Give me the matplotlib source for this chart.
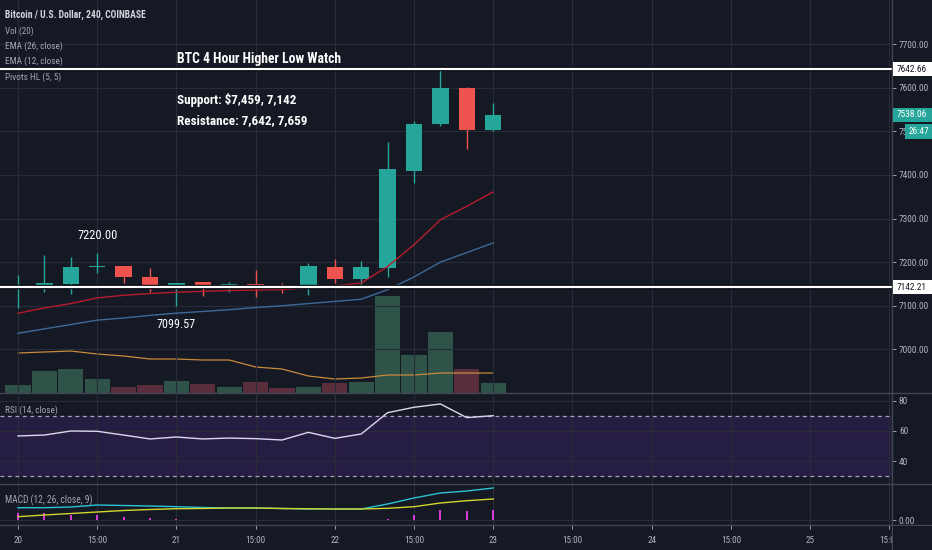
import matplotlib.pyplot as plt
import matplotlib.patheffects as pe
from matplotlib import font_manager as fm
from matplotlib.patches import Rectangle

# 4h candles, Bitcoin / U.S. Dollar, COINBASE
opens = [7141, 7143, 7150, 7189, 7191, 7166, 7138, 7154, 7140, 7150,
         7143, 7138, 7189, 7161, 7186, 7410, 7517, 7600, 7503]
highs = [7170, 7216, 7211, 7220, 7192, 7186, 7153, 7155, 7154, 7182,
         7152, 7198, 7207, 7202, 7475, 7523, 7642.66, 7601, 7565]
lows = [7094, 7131, 7127, 7175, 7152, 7131, 7099.57, 7122, 7131, 7120,
        7129, 7124, 7152, 7143, 7166, 7381, 7512, 7459, 7500]
closes = [7144, 7152, 7189, 7192, 7166, 7138, 7152, 7140, 7150, 7143,
          7138, 7191, 7161, 7188, 7413, 7517, 7600, 7503, 7538.06]

ema12 = [7083, 7095, 7105, 7118, 7124, 7128, 7131, 7133, 7135, 7136,
         7137, 7141, 7146, 7152, 7190, 7240, 7297, 7328, 7361]
ema26 = [7037, 7047, 7057, 7067, 7072, 7078, 7083, 7087, 7091, 7096,
         7100, 7105, 7110, 7115, 7137, 7166, 7200, 7222, 7244]

volume = [320, 880, 960, 560, 240, 320, 480, 360, 240, 440,
          200, 240, 400, 440, 3880, 1520, 2440, 960, 400]
vol_ma = [1600, 1640, 1680, 1560, 1480, 1360, 1360, 1320, 1320, 1040,
          960, 680, 560, 600, 720, 720, 800, 800, 800]

rsi = [56.7, 57.3, 60.0, 59.8, 57.3, 54.7, 56.0, 54.7, 55.3, 54.9,
       54.0, 59.1, 55.1, 58.0, 72.2, 75.8, 78.0, 68.9, 70.2]

macd = [24.6, 24.6, 26, 30, 29, 28, 26.6, 25, 24, 24,
        23, 22, 22, 22, 32, 44, 54, 58, 64]
signal = [6.6, 10, 13, 16, 19, 21, 22.6, 23, 24, 24,
          23, 22.5, 22, 22, 23.4, 26.6, 34, 38.6, 42]
hist = [14, 14, 10, 10, 6, 4, 2, 1, 0.5, 0.3,
        0.3, 0.2, 0.2, 0.2, 3, 10, 20, 18, 20]

time_ticks = [0, 3, 6, 9, 12, 15, 18, 21, 24, 27, 30, 33]
time_labels = ["20", "15:00", "21", "15:00", "22", "15:00", "23",
               "15:00", "24", "15:00", "25", "15:00"]
price_ticks = [7000, 7100, 7200, 7300, 7400, 7500, 7600, 7700]

support = 7142.21
resistance = 7642.66

BG = "#151924"
GRID = "#282c38"
TXT = "#b2b5be"
UP = "#26a69a"
DOWN = "#ef5350"

# narrow font if there is one
names = {f.name for f in fm.fontManager.ttflist}
FONT = "DejaVu Sans"
for cand in ["Liberation Sans Narrow", "Roboto Condensed", "Open Sans Condensed",
             "Liberation Sans"]:
    if cand in names:
        FONT = cand
        break
plt.rcParams['font.family'] = [FONT, 'DejaVu Sans']

W, H = 932, 550
fig = plt.figure(figsize=(9.32, 5.5), dpi=100, facecolor=BG)
R = fig.canvas.get_renderer()


def fy(py):
    return 1 - py / H


def fit(t, w):
    cur = t.get_window_extent(R).width
    t.set_fontsize(t.get_fontsize() * w / cur)
    return t


def size_for(s, w, bold=False):
    t = fig.text(0, 0, s, fontsize=10, fontweight="bold" if bold else "normal")
    fs = 10 * w / t.get_window_extent(R).width
    t.remove()
    return fs


right = 892 / W
xlim = (-18 / 26.4, (892 - 18) / 26.4)
tick_fs = min(size_for("7700.00", 30), 8)
time_fs = min(size_for("15:00", 20), 8)

ax_vol = fig.add_axes([0, fy(393), right, 393 / H])
ax = fig.add_axes([0, fy(393), right, 393 / H])
ax_rsi = fig.add_axes([0, fy(484), right, 91 / H])
ax_macd = fig.add_axes([0, fy(525), right, 41 / H])

for a in (ax_vol, ax, ax_rsi, ax_macd):
    a.set_facecolor(BG)
    a.set_xlim(*xlim)
    for s in a.spines.values():
        s.set_visible(False)
    a.tick_params(colors=TXT, labelsize=tick_fs, length=3, width=0.6, pad=2)
    a.set_xticks(time_ticks)
    a.tick_params(axis='x', labelbottom=False, length=0)
    a.grid(True, color=GRID, linewidth=0.8)
    a.set_axisbelow(True)
ax.patch.set_visible(False)

# volume behind the candles
x = list(range(len(closes)))
vcol = ["#2f5249" if c >= o else "#5b2e3d" for o, c in zip(opens, closes)]
ax_vol.bar(x, volume, width=0.96, color=vcol)
ax_vol.plot(x, vol_ma, color="#c98a3c", linewidth=0.9)
ax_vol.set_ylim(0, 393 * 40)
ax_vol.set_yticks([])
ax_vol.grid(False)
ax_vol.xaxis.grid(True, color=GRID, linewidth=0.8)

# candles
ax.set_ylim(6900, 7801)
ax.set_yticks(price_ticks)
ax.set_yticklabels(["%.2f" % p for p in price_ticks])
ax.yaxis.tick_right()
ax.grid(True, color=GRID, linewidth=0.8)
for i in x:
    col = UP if closes[i] >= opens[i] else DOWN
    ax.vlines(i, lows[i], highs[i], color=col, linewidth=1, zorder=3)
    lo = min(opens[i], closes[i])
    hgt = max(abs(closes[i] - opens[i]), 2.5)
    ax.bar(i, hgt, bottom=lo, width=0.62, color=col, zorder=4)

ax.plot(x, ema12, color="#b71c2c", linewidth=1, zorder=5)
ax.plot(x, ema26, color="#3d6a99", linewidth=1, zorder=5)

for lvl in (support, resistance):
    ax.axhline(lvl, color="white", linewidth=1.6, zorder=6,
               path_effects=[pe.Stroke(linewidth=3.2, foreground="#05070b"), pe.Normal()])

# pivot labels
fit(ax.text(3, 7262, "7220.00", color="white", fontsize=10, ha="center", va="center", zorder=7), 40)
fit(ax.text(6, 7057, "7099.57", color="white", fontsize=10, ha="center", va="center", zorder=7), 39)

# RSI pane
ax_rsi.set_ylim(24.7, 85.3)
ax_rsi.axhspan(30, 70, color="#261d42", zorder=0)
ax_rsi.axhline(70, color="#aaa4bf", linewidth=0.9, linestyle=(0, (3, 3)))
ax_rsi.axhline(30, color="#aaa4bf", linewidth=0.9, linestyle=(0, (3, 3)))
ax_rsi.plot(x, rsi, color="#dcd6ee", linewidth=1)
ax_rsi.set_yticks([40, 60, 80])
ax_rsi.yaxis.tick_right()

# MACD pane
ax_macd.set_ylim(-10, 72)
ax_macd.bar(x, hist, width=0.08, color="#d63bd6")
ax_macd.plot(x, macd, color="#2bc3d3", linewidth=1)
ax_macd.plot(x, signal, color="#d2d62a", linewidth=1)
ax_macd.set_yticks([0])
ax_macd.set_yticklabels(["0.00"])
ax_macd.yaxis.tick_right()
ax_macd.tick_params(axis='x', labelbottom=True, length=3, pad=5, labelsize=time_fs)
ax_macd.set_xticklabels(time_labels)

# pane separators and price axis line
for py in (393, 484, 525):
    fig.add_artist(plt.Line2D([0, 1], [fy(py), fy(py)], color="#434651", linewidth=1))
fig.add_artist(plt.Line2D([right, right], [0, 1], color="#434651", linewidth=1))
fig.add_artist(Rectangle((right + 0.001, 0), 1 - right, fy(526), facecolor=BG,
                         edgecolor="none", zorder=10))


# price labels on the axis
def price_py(p):
    return H - ax.transData.transform((0, p))[1]


def axis_box(py, s, fc, tc, x0=893, h=14):
    fig.add_artist(Rectangle((x0 / W, fy(py + h / 2)), (W - x0) / W, h / H,
                             facecolor=fc, edgecolor="none", zorder=11))
    fig.text((x0 + 4) / W, fy(py), s, color=tc, fontsize=tick_fs, va="center",
             ha="left", zorder=12)


axis_box(price_py(resistance), "%.2f" % resistance, "white", "#131722")
axis_box(price_py(support), "%.2f" % support, "white", "#131722")
axis_box(price_py(closes[-1]), "%.2f" % closes[-1], UP, "white")
axis_box(131, "26:47", UP, "white", x0=905, h=15)

# header legends
fit(fig.text(5 / W, fy(15), "Bitcoin / U.S. Dollar, 240, COINBASE", color="#d1d4dc",
             fontsize=8, va="center", fontweight="bold"), 141)
for py, s, w in [(31, "Vol (20)", 29), (46, "EMA (26, close)", 58),
                 (61, "EMA (12, close)", 58), (77, "Pivots HL (5, 5)", 56),
                 (410, "RSI (14, close)", 53), (500, "MACD (12, 26, close, 9)", 88)]:
    fit(fig.text(5 / W, fy(py), s, color="#a3a6af", fontsize=8, va="center"), w)

# annotation
fit(fig.text(177 / W, fy(59), "BTC 4 Hour Higher Low Watch", color="white",
             fontsize=10.5, fontweight="bold", va="center"), 165)
fit(fig.text(177 / W, fy(100), "Support: $7,459, 7,142", color="white",
             fontsize=10.5, fontweight="bold", va="center"), 120)
fit(fig.text(177 / W, fy(121), "Resistance: 7,642, 7,659", color="white",
             fontsize=10.5, fontweight="bold", va="center"), 131)

fig.savefig("out.png", dpi=100, facecolor=BG)
